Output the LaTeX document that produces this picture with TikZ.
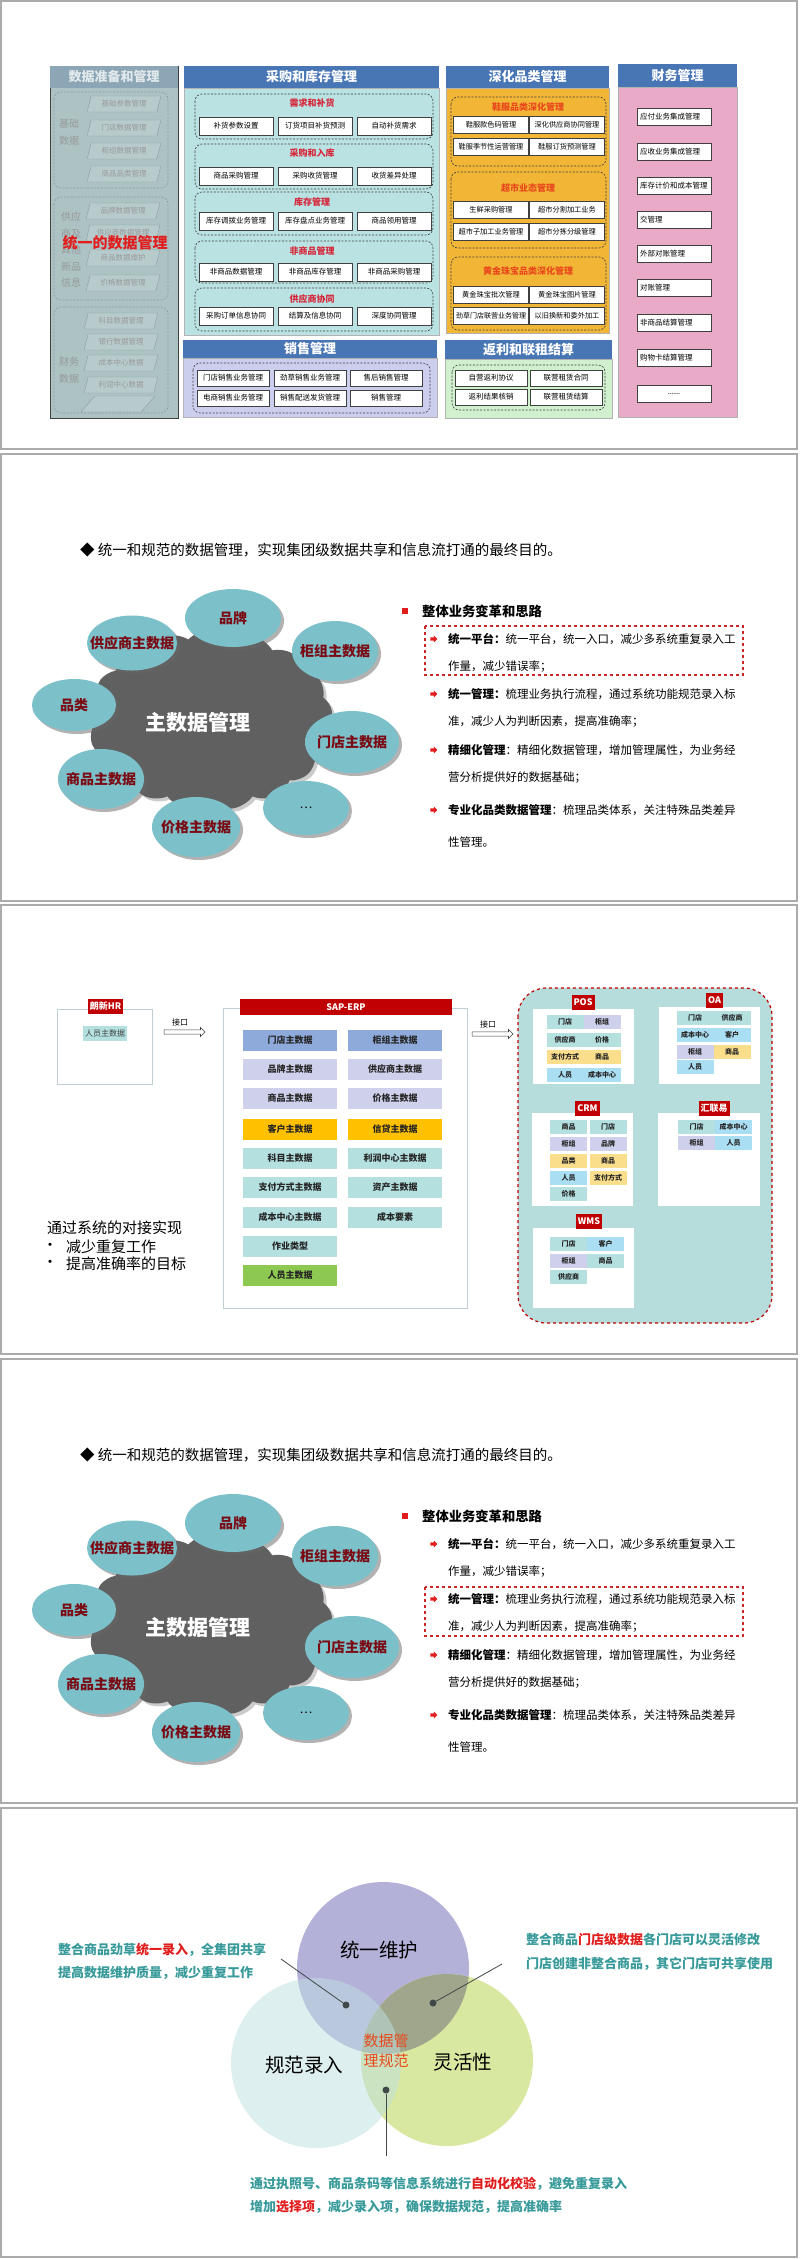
\documentclass[tikz,border=0pt]{standalone}
\usepackage{fontspec}
\setmainfont{Noto Sans CJK SC}
\usetikzlibrary{arrows.meta,positioning,shapes.geometric,shapes.symbols,shapes.arrows,shadows}

\definecolor{headblue}{RGB}{72,118,180}
\definecolor{purbody}{RGB}{187,226,226}
\definecolor{salbody}{RGB}{204,206,238}
\definecolor{deepbody}{RGB}{242,182,54}
\definecolor{rebbody}{RGB}{208,240,206}
\definecolor{finbody}{RGB}{233,170,199}
\definecolor{fadebody}{RGB}{172,194,195}
\definecolor{fadehead}{RGB}{140,166,182}
\definecolor{fadeline}{RGB}{138,158,160}
\definecolor{grpred}{RGB}{214,38,58}
\definecolor{deepred}{RGB}{232,72,28}
\definecolor{emred}{RGB}{224,30,30}
\definecolor{ellteal}{RGB}{124,193,201}
\definecolor{cloudgray}{RGB}{96,96,96}
\definecolor{elltext}{RGB}{122,10,20}
\definecolor{sapred}{RGB}{192,0,0}
\definecolor{cblue}{RGB}{142,170,219}
\definecolor{clav}{RGB}{207,208,236}
\definecolor{cgold}{RGB}{255,192,0}
\definecolor{cteal}{RGB}{180,224,224}
\definecolor{cgreen}{RGB}{141,200,80}
\definecolor{clblue}{RGB}{170,222,242}
\definecolor{cyel}{RGB}{250,222,140}
\definecolor{contteal}{RGB}{182,220,220}
\definecolor{boxline}{RGB}{190,208,212}
\definecolor{vpurple}{RGB}{180,177,217}
\definecolor{vgreen}{RGB}{217,232,161}
\definecolor{volive}{RGB}{160,166,140}
\definecolor{vcyan}{rgb}{0.75,0.88,0.88}
\definecolor{callteal}{RGB}{56,154,154}
\definecolor{dotgray}{RGB}{64,72,72}

\newcommand\fsz[1]{\fontsize{#1}{#1}\selectfont}

\begin{document}
\begin{tikzpicture}[x=1pt,y=-1pt,
  frame/.style={draw=black!33,line width=1.6pt},
  colhead/.style={fill=headblue,text=white,inner sep=0,font=\fsz{13}\bfseries},
  grp/.style={draw=black!75,dash pattern=on 2pt off 1.5pt,rounded corners=7pt,line width=.6pt},
  grptitle/.style={text=grpred,inner sep=0,font=\fsz{9}\bfseries},
  fbox/.style={draw=black!75,fill=white,line width=.6pt,inner sep=0,minimum width=74,minimum height=18,font=\fsz{7.5}},
  finbox/.style={draw=black!75,fill=white,line width=.6pt,inner xsep=3pt,inner ysep=0,text width=68,align=left,minimum height=17,font=\fsz{7.5}},
  fadebox/.style={trapezium,trapezium left angle=72,trapezium right angle=108,trapezium stretches=true,draw=fadeline,fill=fadebody!85!white,text=black!40,inner sep=1pt,minimum width=74,minimum height=16,font=\fsz{7.5}},
  fadelbl/.style={text=black!40,align=center,inner sep=0,font=\fontsize{10}{16.5}\selectfont},
  mdmell/.style={ellipse,fill=ellteal,inner sep=1pt,drop shadow={shadow xshift=3pt,shadow yshift=-3pt,fill=black!60}},
  mdmtxt/.style={text=elltext,inner sep=0,font=\fsz{14}\bfseries},
  ptxt/.style={anchor=west,inner sep=0,font=\fsz{11.5}},
  arrbul/.style={single arrow,fill=emred,inner sep=1pt,minimum height=7,minimum width=7,single arrow head extend=1.5pt},
  hlbox/.style={draw=sapred!85,dashed,line width=1.2pt},
  tab/.style={fill=sapred,text=white,inner sep=2pt,minimum height=15,font=\fsz{9}\bfseries},
  dbox/.style={inner sep=0,minimum width=94,minimum height=21,text=black!85,font=\fsz{9}\bfseries},
  pill/.style={inner sep=0,minimum width=37,minimum height=14,text=black!85,font=\fsz{7}\bfseries},
  sysbox/.style={fill=white,inner sep=1pt},
  hollow/.style={single arrow,draw=black!75,fill=white,line width=.6pt,minimum height=41,inner xsep=1pt,inner ysep=1.8pt,single arrow head extend=2.5pt},
  vlbl/.style={inner sep=0,font=\fsz{19.5}},
  calltxt/.style={anchor=west,inner sep=0,text=callteal,font=\fsz{13}\bfseries},
  dot/.style={circle,fill=dotgray,minimum size=7,inner sep=1pt}]

\fill[white] (0,0) rectangle (800,2259);
\useasboundingbox (0,0) rectangle (800,2259);
\foreach \ya/\yb in {1/449,454/901,905/1354,1359/1803,1808/2257}
  \draw[frame] (1,\ya) rectangle (797,\yb);

% ---- panel 1: system map
% data preparation (faded)
\draw[fill=fadebody,draw=black!75,line width=.8pt] (50,66) rectangle (178,418);
\node[colhead,fill=fadehead,text=white!75!fadehead,minimum width=128,minimum height=22] (prep) at (114,77) {数据准备和管理};
\draw[grp,draw=fadeline] (54,92) rectangle (168,188);
\draw[grp,draw=fadeline] (54,197) rectangle (168,300);
\draw[grp,draw=fadeline] (54,307) rectangle (168,413);
\node[fadelbl] (prepl1) at (69,132) {基础\\数据};
\node[fadelbl] (prepl2) at (71,250) {供应\\商及\\其他\\新品\\信息};
\node[fadelbl] (prepl3) at (69,370) {财务\\数据};
\node[fadebox] (prep1) at (124,104) {基础参数管理};
\node[fadebox] (prep2) at (124,128) {门店数据管理};
\node[fadebox] (prep3) at (124,151) {柜组数据管理};
\node[fadebox] (prep4) at (124,174) {商品品类管理};
\node[fadebox] (prep5) at (123,211) {品牌数据管理};
\node[fadebox] (prep6) at (123,233) {供应商数据管理};
\node[fadebox] (prep7) at (123,258) {商品数据维护};
\node[fadebox] (prep8) at (123,283) {价格数据管理};
\node[fadebox] (prep9) at (121,321) {科目数据管理};
\node[fadebox] (prep10) at (121,342) {银行数据管理};
\node[fadebox] (prep11) at (121,363) {成本中心数据};
\node[fadebox] (prep12) at (121,385) {利润中心数据};
\node[fadebox] (prep13) at (118,404) {\phantom{基}};
\node[font=\fsz{15}\bfseries,text=emred,inner sep=0] (unify) at (115,243) {统一的数据管理};

% purchase and stock
\draw[fill=purbody,draw=black!30] (184,88) rectangle (439,335);
\node[colhead,minimum width=255,minimum height=22] (purh) at (311.5,77) {采购和库存管理};
\draw[grp] (195,94) rectangle (433,139);
\node[grptitle] (pg1) at (312,103) {需求和补货};
\node[fbox] (pg1a) at (236,126) {补货参数设置};
\node[fbox] (pg1b) at (315,126) {订货项目补货预测};
\node[fbox] (pg1c) at (394,126) {自动补货需求};
\draw[grp] (195,144) rectangle (433,189);
\node[grptitle] (pg2) at (312,153) {采购和入库};
\node[fbox] (pg2a) at (236,176) {商品采购管理};
\node[fbox] (pg2b) at (315,176) {采购收货管理};
\node[fbox] (pg2c) at (394,176) {收货差异处理};
\draw[grp] (195,192) rectangle (433,235);
\node[grptitle] (pg3) at (312,202) {库存管理};
\node[fbox] (pg3a) at (236,221) {库存调拨业务管理};
\node[fbox] (pg3b) at (315,221) {库存盘点业务管理};
\node[fbox] (pg3c) at (394,221) {商品领用管理};
\draw[grp] (195,241) rectangle (433,283);
\node[grptitle] (pg4) at (312,251) {非商品管理};
\node[fbox] (pg4a) at (236,272) {非商品数据管理};
\node[fbox] (pg4b) at (315,272) {非商品库存管理};
\node[fbox] (pg4c) at (394,272) {非商品采购管理};
\draw[grp] (195,288) rectangle (433,331);
\node[grptitle] (pg5) at (312,299) {供应商协同};
\node[fbox] (pg5a) at (236,316) {采购订单信息协同};
\node[fbox] (pg5b) at (315,316) {结算及信息协同};
\node[fbox] (pg5c) at (394,316) {深度协同管理};

% sales
\draw[fill=salbody,draw=black!30] (183,358) rectangle (437,417);
\node[colhead,minimum width=254,minimum height=18] (salh) at (310,349) {销售管理};
\draw[grp] (193,363) rectangle (430,413);
\node[fbox,minimum width=72,minimum height=16] (sa1) at (233,378) {门店销售业务管理};
\node[fbox,minimum width=72,minimum height=16] (sa2) at (310,378) {劲草销售业务管理};
\node[fbox,minimum width=72,minimum height=16] (sa3) at (386,378) {售后销售管理};
\node[fbox,minimum width=72,minimum height=16] (sa4) at (233,398) {电商销售业务管理};
\node[fbox,minimum width=72,minimum height=16] (sa5) at (310,398) {销售配送发货管理};
\node[fbox,minimum width=72,minimum height=16] (sa6) at (386,398) {销售管理};

% category deepening
\draw[fill=deepbody,draw=black!30] (446,88) rectangle (609,333);
\node[colhead,minimum width=163,minimum height=22] (deeph) at (527.5,77) {深化品类管理};
\draw[grp] (451,97) rectangle (606,166);
\node[grptitle,text=deepred] (dg1) at (528,107) {鞋服品类深化管理};
\node[fbox,minimum width=75,minimum height=17,font=\fsz{7.2}] (dg1a) at (491,125) {鞋服款色码管理};
\node[fbox,minimum width=75,minimum height=17,font=\fsz{7.2}] (dg1b) at (567,125) {深化供应商协同管理};
\node[fbox,minimum width=75,minimum height=17,font=\fsz{7.2}] (dg1c) at (491,147) {鞋服季节性运营管理};
\node[fbox,minimum width=75,minimum height=17,font=\fsz{7.2}] (dg1d) at (567,147) {鞋服订货预测管理};
\draw[grp] (451,172) rectangle (606,248);
\node[grptitle,text=deepred] (dg2) at (528,188) {超市业态管理};
\node[fbox,minimum width=75,minimum height=17,font=\fsz{7.2}] (dg2a) at (491,210) {生鲜采购管理};
\node[fbox,minimum width=75,minimum height=17,font=\fsz{7.2}] (dg2b) at (567,210) {超市分割加工业务};
\node[fbox,minimum width=75,minimum height=17,font=\fsz{7.2}] (dg2c) at (491,232) {超市子加工业务管理};
\node[fbox,minimum width=75,minimum height=17,font=\fsz{7.2}] (dg2d) at (567,232) {超市分拣分级管理};
\draw[grp] (451,257) rectangle (606,330);
\node[grptitle,text=deepred] (dg3) at (528,271) {黄金珠宝品类深化管理};
\node[fbox,minimum width=75,minimum height=17,font=\fsz{7.2}] (dg3a) at (491,295) {黄金珠宝批次管理};
\node[fbox,minimum width=75,minimum height=17,font=\fsz{7.2}] (dg3b) at (567,295) {黄金珠宝图片管理};
\node[fbox,minimum width=75,minimum height=17,font=\fsz{7}] (dg3c) at (491,316) {劲草门店联营业务管理};
\node[fbox,minimum width=75,minimum height=17,font=\fsz{7.2}] (dg3d) at (567,316) {以旧换新和委外加工};

% rebate and lease
\draw[fill=rebbody,draw=black!30] (445,359) rectangle (612,418);
\node[colhead,minimum width=167,minimum height=19] (rebh) at (528.5,349.5) {返利和联租结算};
\draw[grp] (452,365) rectangle (605,410);
\node[fbox,minimum width=72,minimum height=16] (rb1) at (491,378) {自营返利协议};
\node[fbox,minimum width=72,minimum height=16] (rb2) at (566,378) {联营租赁合同};
\node[fbox,minimum width=72,minimum height=16] (rb3) at (491,397) {返利结果核销};
\node[fbox,minimum width=72,minimum height=16] (rb4) at (566,397) {联营租赁结算};

% finance
\draw[fill=finbody,draw=black!30] (618,87) rectangle (737,417);
\node[colhead,minimum width=119,minimum height=23] (finh) at (677.5,75.5) {财务管理};
\node[finbox] (fi1) at (674,117) {应付业务集成管理};
\node[finbox] (fi2) at (674,152) {应收业务集成管理};
\node[finbox] (fi3) at (674,186) {库存计价和成本管理};
\node[finbox] (fi4) at (674,220) {交管理};
\node[finbox] (fi5) at (674,254) {外部对账管理};
\node[finbox] (fi6) at (674,288) {对账管理};
\node[finbox] (fi7) at (674,323) {非商品结算管理};
\node[finbox] (fi8) at (674,358) {购物卡结算管理};
\node[finbox,align=center] (fi9) at (674,394) {......};

% ---- panels 2 and 4: master data management
\foreach \dy/\hy in {0/626,905/682}{
\begin{scope}[shift={(0,\dy)}]
\node[anchor=west,inner sep=0,font=\fsz{14.5}] (ttl\dy) at (80,550) {◆ 统一和规范的数据管理，实现集团级数据共享和信息流打通的最终目的。};
\node[cloud,cloud puffs=17,cloud puff arc=95,cloud ignores aspect,minimum width=245,minimum height=180,fill=cloudgray,drop shadow={shadow xshift=3pt,shadow yshift=-3pt,fill=black!40}] (mdm\dy) at (210,720) {};
\node[text=white,inner sep=0,font=\fsz{21}\bfseries] (mdmt\dy) at (198,722) {主数据管理};
\node[mdmell,minimum width=96,minimum height=58] (brand\dy) at (233,618) {};
\node[mdmtxt] at (brand\dy) {品牌};
\node[mdmell,minimum width=90,minimum height=55] (supp\dy) at (132,643) {};
\node[mdmtxt] at (supp\dy) {供应商主数据};
\node[mdmell,minimum width=86,minimum height=60] (coun\dy) at (335,651) {};
\node[mdmtxt] at (coun\dy) {柜组主数据};
\node[mdmell,minimum width=84,minimum height=52] (cate\dy) at (74,705) {};
\node[mdmtxt] at (cate\dy) {品类};
\node[mdmell,minimum width=94,minimum height=62] (store\dy) at (352,742) {};
\node[mdmtxt] at (store\dy) {门店主数据};
\node[mdmell,minimum width=86,minimum height=60] (goods\dy) at (101,779) {};
\node[mdmtxt] at (goods\dy) {商品主数据};
\node[mdmell,minimum width=88,minimum height=60] (price\dy) at (196,827) {};
\node[mdmtxt] at (price\dy) {价格主数据};
\node[mdmell,minimum width=86,minimum height=54] (more\dy) at (306,808) {};
\node[inner sep=0,font=\fsz{12}] at (more\dy) {…};
% right side
\node[fill=emred,minimum size=6,inner sep=0] (sq\dy) at (405,611) {};
\node[anchor=west,inner sep=0,font=\fsz{13.3}\bfseries] (head\dy) at (422,611) {整体业务变革和思路};
\node[arrbul] (b1\dy) at (433,639) {};
\node[ptxt] (t1a\dy) at (448,639) {\textbf{统一平台：}统一平台，统一入口，减少多系统重复录入工};
\node[ptxt] (t1b\dy) at (448,667) {作量，减少错误率；};
\node[arrbul] (b2\dy) at (433,694) {};
\node[ptxt] (t2a\dy) at (448,694) {\textbf{统一管理：}梳理业务执行流程，通过系统功能规范录入标};
\node[ptxt] (t2b\dy) at (448,722) {准，减少人为判断因素，提高准确率；};
\node[arrbul] (b3\dy) at (433,750) {};
\node[ptxt] (t3a\dy) at (448,750) {\textbf{精细化管理}：精细化数据管理，增加管理属性，为业务经};
\node[ptxt] (t3b\dy) at (448,778) {营分析提供好的数据基础；};
\node[arrbul] (b4\dy) at (433,810) {};
\node[ptxt] (t4a\dy) at (448,810) {\textbf{专业化品类数据管理}：梳理品类体系，关注特殊品类差异};
\node[ptxt] (t4b\dy) at (448,842) {性管理。};
\draw[hlbox] (425,\hy) rectangle (743,\hy+49);
\end{scope}}

% ---- panel 3: system interfaces
\node[draw=boxline,line width=.8pt,minimum width=95,minimum height=75] (hr) at (104.5,1046.5) {};
\node[tab] (hrtab) at (105.5,1006) {朗新HR};
\node[pill,fill=cteal,minimum width=44,minimum height=15,font=\fsz{8},text=black!75] (hrstaff) at (105,1033.5) {人员主数据};
\node[inner sep=0,font=\fsz{8}] (if1l) at (180,1022) {接口};
\node[hollow] (if1) at (183.5,1032) {};
\node[draw=boxline,line width=.8pt,minimum width=244,minimum height=300] (sap) at (345,1158) {};
\node[tab,minimum width=212,minimum height=16] (saptab) at (346,1007) {SAP-ERP};
\node[dbox,fill=cblue] (sd1) at (290,1040) {门店主数据};
\node[dbox,fill=cblue] (sd2) at (395,1040) {柜组主数据};
\node[dbox,fill=clav] (sd3) at (290,1069) {品牌主数据};
\node[dbox,fill=clav] (sd4) at (395,1069) {供应商主数据};
\node[dbox,fill=clav] (sd5) at (290,1098) {商品主数据};
\node[dbox,fill=clav] (sd6) at (395,1098) {价格主数据};
\node[dbox,fill=cgold] (sd7) at (290,1129) {客户主数据};
\node[dbox,fill=cgold] (sd8) at (395,1129) {信贷主数据};
\node[dbox,fill=cteal] (sd9) at (290,1158) {科目主数据};
\node[dbox,fill=cteal] (sd10) at (395,1158) {利润中心主数据};
\node[dbox,fill=cteal] (sd11) at (290,1187) {支付方式主数据};
\node[dbox,fill=cteal] (sd12) at (395,1187) {资产主数据};
\node[dbox,fill=cteal] (sd13) at (290,1217) {成本中心主数据};
\node[dbox,fill=cteal] (sd14) at (395,1217) {成本要素};
\node[dbox,fill=cteal] (sd15) at (290,1246) {作业类型};
\node[dbox,fill=cgreen] (sd16) at (290,1275) {人员主数据};
\node[inner sep=0,font=\fsz{8}] (if2l) at (488,1024) {接口};
\node[hollow] (if2) at (491.5,1034) {};
\draw[fill=contteal,draw=sapred,dashed,line width=1.2pt,rounded corners=28pt] (518,988) rectangle (772,1323);
% POS
\node[sysbox,minimum width=101,minimum height=75] (pos) at (583.5,1046.5) {};
\node[tab] (postab) at (583,1002.5) {POS};
\node[pill,fill=cteal] (pos1) at (565,1022) {门店};
\node[pill,fill=clav] (pos2) at (602,1022) {柜组};
\node[pill,fill=cteal] (pos3) at (565,1040) {供应商};
\node[pill,fill=cteal] (pos4) at (602,1040) {价格};
\node[pill,fill=cyel] (pos5) at (565,1057) {支付方式};
\node[pill,fill=cyel] (pos6) at (602,1057) {商品};
\node[pill,fill=clblue] (pos7) at (565,1075) {人员};
\node[pill,fill=clblue] (pos8) at (602,1075) {成本中心};
% OA
\node[sysbox,minimum width=101,minimum height=77] (oa) at (709.5,1045.5) {};
\node[tab] (oatab) at (714.5,1000.5) {OA};
\node[pill,fill=cteal] (oa1) at (695,1018) {门店};
\node[pill,fill=cteal] (oa2) at (732,1018) {供应商};
\node[pill,fill=clblue] (oa3) at (695,1035) {成本中心};
\node[pill,fill=clblue] (oa4) at (732,1035) {客户};
\node[pill,fill=clav] (oa5) at (695,1052) {柜组};
\node[pill,fill=cyel] (oa6) at (732,1052) {商品};
\node[pill,fill=clblue] (oa7) at (695,1067) {人员};
% CRM
\node[sysbox,minimum width=101,minimum height=93] (crm) at (582.5,1159.5) {};
\node[tab] (crmtab) at (587.5,1108.5) {CRM};
\node[pill,fill=cteal] (crm1) at (568.5,1127) {商品};
\node[pill,fill=cteal] (crm2) at (608,1127) {门店};
\node[pill,fill=clav] (crm3) at (568.5,1144) {柜组};
\node[pill,fill=clav] (crm4) at (608,1144) {品牌};
\node[pill,fill=cyel] (crm5) at (568.5,1161) {品类};
\node[pill,fill=cyel] (crm6) at (608,1161) {商品};
\node[pill,fill=clblue] (crm7) at (568.5,1178) {人员};
\node[pill,fill=cyel] (crm8) at (608,1178) {支付方式};
\node[pill,fill=cteal] (crm9) at (568.5,1194) {价格};
% Huilianyi
\node[sysbox,minimum width=102,minimum height=93] (hly) at (709,1159.5) {};
\node[tab] (hlytab) at (714,1108.5) {汇联易};
\node[pill,fill=cteal] (hly1) at (696.5,1127) {门店};
\node[pill,fill=clblue] (hly2) at (733.5,1127) {成本中心};
\node[pill,fill=clav] (hly3) at (696.5,1143) {柜组};
\node[pill,fill=clblue] (hly4) at (733.5,1143) {人员};
% WMS
\node[sysbox,minimum width=101,minimum height=80] (wms) at (583.5,1268) {};
\node[tab] (wmstab) at (589,1221.5) {WMS};
\node[pill,fill=cteal] (wms1) at (568.5,1244) {门店};
\node[pill,fill=clblue] (wms2) at (605.5,1244) {客户};
\node[pill,fill=clav] (wms3) at (568.5,1261) {柜组};
\node[pill,fill=cteal] (wms4) at (605.5,1261) {商品};
\node[pill,fill=cteal] (wms5) at (568.5,1277) {供应商};
% goal text
\node[anchor=west,inner sep=0,font=\fsz{15}] (goal) at (47,1228) {通过系统的对接实现};
\node[inner sep=0,font=\fsz{15}] (goalb1) at (50,1247) {•};
\node[anchor=west,inner sep=0,font=\fsz{15}] (goal1) at (66,1247) {减少重复工作};
\node[inner sep=0,font=\fsz{15}] (goalb2) at (50,1264) {•};
\node[anchor=west,inner sep=0,font=\fsz{15}] (goal2) at (66,1264) {提高准确率的目标};

% ---- panel 5: venn
\node[circle,fill=vpurple,minimum size=172,inner sep=0] (vmaint) at (383,1968) {};
\node[circle,fill=vgreen,minimum size=172,inner sep=0] (vflex) at (447,2060) {};
\begin{scope}
\clip (383,1968) circle (86);
\fill[volive] (447,2060) circle (86);
\end{scope}
\node[circle,fill=vcyan,fill opacity=.5,minimum size=170,inner sep=0] (vnorm) at (316,2063) {};
\node[vlbl] (vmaintl) at (379,1950) {统一维护};
\node[vlbl] (vnorml) at (304,2065) {规范录入};
\node[vlbl] (vflexl) at (463,2062) {灵活性};
\node[text=deepred,align=center,inner sep=0,font=\fontsize{15}{20}\selectfont] (vcore) at (386,2051) {数据管\\理规范};
\node[dot] (d1) at (346,2005) {};
\node[dot] (d2) at (433,2003) {};
\node[dot] (d3) at (386,2090) {};
\coordinate (c1) at (281,1959);
\coordinate (c2) at (502,1964);
\coordinate (c3) at (386,2156);
\draw[dotgray,line width=.8pt] (c1) -- (d1);
\draw[dotgray,line width=.8pt] (c2) -- (d2);
\draw[dotgray,line width=.8pt] (d3) -- (c3);
\node[calltxt] (n1a) at (58,1950) {整合商品劲草\textcolor{emred}{统一录入}，全集团共享};
\node[calltxt] (n1b) at (58,1973) {提高数据维护质量，减少重复工作};
\node[calltxt] (n2a) at (526,1940) {整合商品\textcolor{emred}{门店级数据}各门店可以灵活修改};
\node[calltxt] (n2b) at (526,1964) {门店创建非整合商品，其它门店可共享使用};
\node[calltxt] (n3a) at (250,2184) {通过执照号、商品条码等信息系统进行\textcolor{emred}{自动化校验}，避免重复录入};
\node[calltxt] (n3b) at (250,2207) {增加\textcolor{emred}{选择项}，减少录入项，确保数据规范，提高准确率};
\end{tikzpicture}
\end{document}
